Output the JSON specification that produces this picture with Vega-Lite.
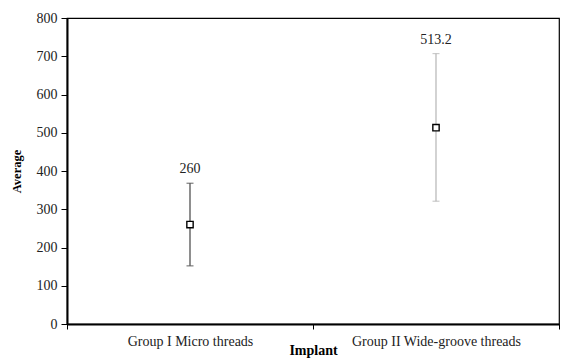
{
  "$schema": "https://vega.github.io/schema/vega-lite/v6.json",
  "width": 492,
  "height": 306,
  "autosize": "none",
  "padding": {"left": 67, "top": 18, "right": 7, "bottom": 34},
  "background": "white",
  "config": {
    "font": "Liberation Serif",
    "view": {"stroke": "black", "strokeWidth": 1.2},
    "axis": {"grid": false, "domainColor": "black", "tickColor": "black", "labelColor": "#222", "labelFont": "Liberation Serif", "titleFont": "Liberation Serif", "titleColor": "black", "labelOverlap": false},
    "axisY": {"labelFontSize": 14, "labelPadding": 4, "tickSize": 6, "domainWidth": 2, "titleFontSize": 12.5, "titleFontWeight": "bold", "titlePadding": 13}
  },
  "data": {
    "values": [
      {"group": "Group I Micro threads", "mean": 260, "lower": 152, "upper": 368, "label": "260"},
      {"group": "Group II Wide-groove threads", "mean": 513.2, "lower": 321, "upper": 707, "label": "513.2"}
    ]
  },
  "encoding": {
    "x": {
      "field": "group", "type": "nominal", "sort": null,
      "scale": {"paddingInner": 0, "paddingOuter": 0},
      "axis": {
        "title": "Implant", "labelAngle": 0, "labelFontSize": 14, "labelPadding": 5,
        "tickBand": "extent", "tickSize": 5, "domainWidth": 2,
        "titleFontSize": 14, "titleFontWeight": "bold", "titleY": 30, "titleBaseline": "alphabetic"
      }
    }
  },
  "layer": [
    {
      "mark": {"type": "rule", "strokeWidth": 1.2},
      "encoding": {
        "y": {"field": "lower", "type": "quantitative", "scale": {"domain": [0, 800]},
          "axis": {"title": "Average", "values": [0,100,200,300,400,500,600,700,800]}},
        "y2": {"field": "upper"},
        "color": {"field": "group", "type": "nominal", "scale": {"range": ["#444444", "#b5b5b5"]}, "legend": null}
      }
    },
    {
      "mark": {"type": "tick", "size": 7, "thickness": 1.2, "orient": "horizontal"},
      "encoding": {
        "y": {"field": "upper", "type": "quantitative", "axis": {"title": "Average", "values": [0,100,200,300,400,500,600,700,800]}},
        "color": {"field": "group", "type": "nominal", "legend": null}
      }
    },
    {
      "mark": {"type": "tick", "size": 7, "thickness": 1.2, "orient": "horizontal"},
      "encoding": {
        "y": {"field": "lower", "type": "quantitative", "axis": {"title": "Average", "values": [0,100,200,300,400,500,600,700,800]}},
        "color": {"field": "group", "type": "nominal", "legend": null}
      }
    },
    {
      "mark": {"type": "point", "shape": "square", "size": 40, "filled": false, "stroke": "black", "strokeWidth": 1.4, "fill": "white", "opacity": 1},
      "encoding": {
        "y": {"field": "mean", "type": "quantitative", "axis": {"title": "Average", "values": [0,100,200,300,400,500,600,700,800]}}
      }
    },
    {
      "mark": {"type": "text", "fontSize": 14, "dy": -14, "color": "#222"},
      "encoding": {
        "y": {"field": "upper", "type": "quantitative", "axis": {"title": "Average", "values": [0,100,200,300,400,500,600,700,800]}},
        "text": {"field": "label"}
      }
    }
  ]
}
